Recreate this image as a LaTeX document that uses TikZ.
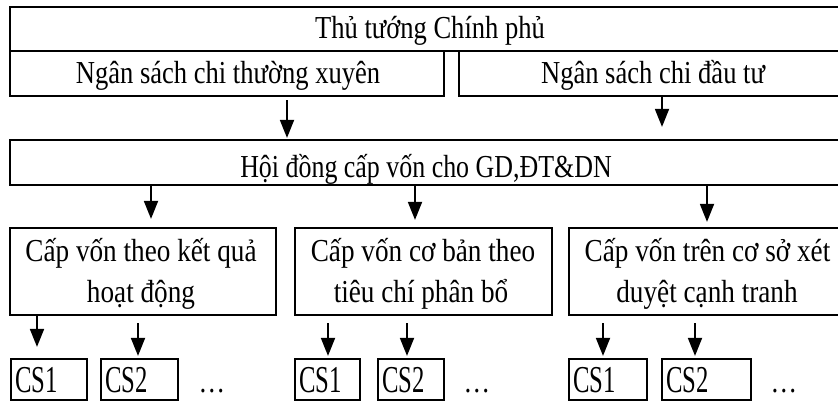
\documentclass[tikz,border=0pt]{standalone}
\usepackage{graphicx}
\usepackage{fontspec}
\setmainfont{Liberation Serif}
\usetikzlibrary{arrows.meta}
% narrow, tall lettering
\newcommand\sq[2][0.83]{\scalebox{#1}[1]{#2}}
\newcommand\sqcs[1]{\scalebox{0.65}[1]{#1}}
\begin{document}
\begin{tikzpicture}[x=1pt,y=-1pt,
  box/.style={draw,line width=2.2pt,rectangle,inner sep=0pt},
  txt/.style={font=\fontsize{32}{38}\selectfont,inner sep=0pt,anchor=base},
  cstxt/.style={font=\fontsize{38}{44}\selectfont,inner sep=0pt,anchor=base west},
  arr/.style={line width=1.8pt,-{Triangle[width=14pt,length=18pt]}}]
\useasboundingbox (0,0) rectangle (838,402);
\clip (0,0) rectangle (838,402);
% upper levels
\node[box,minimum width=840pt,minimum height=44pt] (ttg) at (430,29) {};
\node[box,minimum width=434pt,minimum height=45pt] (nsx) at (227,73.5) {};
\node[box,minimum width=391pt,minimum height=45pt] (nsd) at (654.5,73.5) {};
\node[box,minimum width=840pt,minimum height=45pt] (hd) at (430,162.5) {};
\node[txt] (tttg) at (430,38) {\sq{Thủ tướng Chính phủ}};
\node[txt] (tnsx) at (228,83) {\sq{Ngân sách chi thường xuyên}};
\node[txt] (tnsd) at (653,83) {\sq{Ngân sách chi đầu tư}};
\node[txt] (thd) at (426,177) {\sq[0.81]{Hội đồng cấp vốn cho GD,ĐT\&DN}};
% funding methods
\node[box,minimum width=266pt,minimum height=87pt] (m1) at (143,271.5) {};
\node[box,minimum width=257pt,minimum height=87pt] (m2) at (423.5,271.5) {};
\node[box,minimum width=277pt,minimum height=87pt] (m3) at (707.5,271.5) {};
\node[txt] (m1a) at (141,261) {\sq[0.85]{Cấp vốn theo kết quả}};
\node[txt] (m1b) at (141,302) {\sq[0.85]{hoạt động}};
\node[txt] (m2a) at (423,261) {\sq[0.85]{Cấp vốn cơ bản theo}};
\node[txt] (m2b) at (421,302) {\sq[0.85]{tiêu chí phân bổ}};
\node[txt] (m3a) at (707.5,261) {\sq[0.85]{Cấp vốn trên cơ sở xét}};
\node[txt] (m3b) at (707,302) {\sq[0.85]{duyệt cạnh tranh}};
% institutions
\node[box,minimum width=76pt,minimum height=41pt] (c11) at (49,379.5) {};
\node[box,minimum width=77pt,minimum height=41pt] (c12) at (139.5,379.5) {};
\node[box,minimum width=65pt,minimum height=41pt] (c21) at (327.5,379.5) {};
\node[box,minimum width=66pt,minimum height=41pt] (c22) at (411,379.5) {};
\node[box,minimum width=78pt,minimum height=41pt] (c31) at (608,379.5) {};
\node[box,minimum width=89pt,minimum height=41pt] (c32) at (706.5,379.5) {};
\foreach \c/\t in {c11/CS1,c12/CS2,c21/CS1,c22/CS2,c31/CS1,c32/CS2}
  \node[cstxt] (l\c) at ([xshift=5pt]\c.west |- 0,392) {\sqcs{\t}};
\node[txt] (d1) at (212,392) {\sq{…}};
\node[txt] (d2) at (477,392) {\sq{…}};
\node[txt] (d3) at (784,392) {\sq{…}};
% connectors
\coordinate (a1) at (287,100);
\coordinate (a2) at (662,96);
\draw[arr] (a1) -- ([yshift=1pt]a1 |- hd.north);
\draw[arr] (a2) -- ([yshift=12pt]a2 |- hd.north);
\foreach \x/\m/\g in {151/m1/8,415/m2/7,707/m3/5}
  \draw[arr] (\x,186) coordinate (s\m) -- ([yshift=\g pt]s\m |- \m.north);
\coordinate (b11) at (37,315);
\draw[arr] (b11) -- ([yshift=11pt]b11 |- c11.north);
\foreach \x/\c in {138/c12,328/c21,407/c22,603/c31,695/c32}
  \draw[arr] (\x,323) coordinate (b\c) -- ([yshift=2pt]b\c |- \c.north);
\end{tikzpicture}
\end{document}
